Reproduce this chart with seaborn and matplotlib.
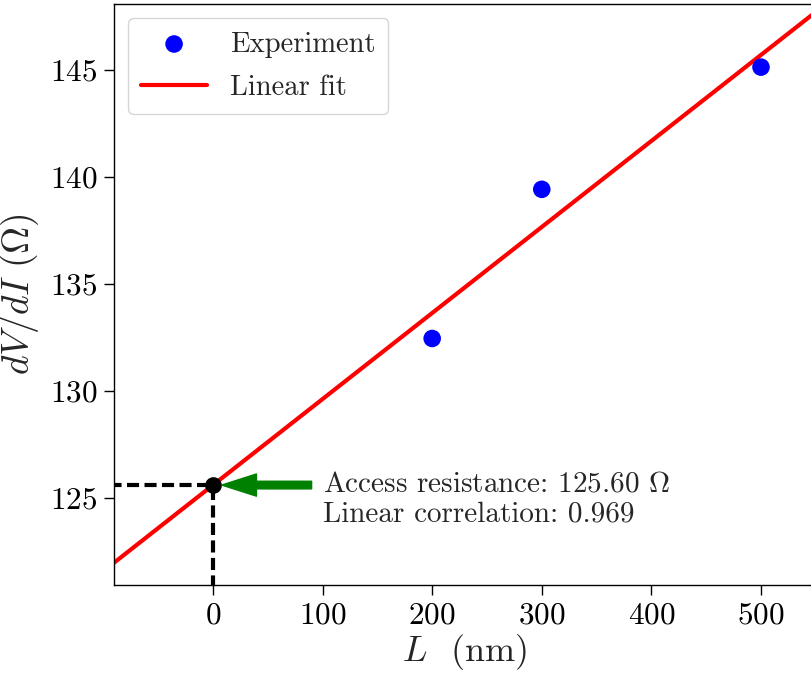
import numpy as np
import pandas as pd
import seaborn as sns
import matplotlib
matplotlib.use("Agg")
import matplotlib.pyplot as plt

# ---- data ----
length_nm = [200, 300, 500]
dvdi_ohm = [132.45, 139.42, 145.13]
access_resistance = 125.60
fit_slope = 0.0402
linear_correlation = 0.969
x_ticks = [0, 100, 200, 300, 400, 500]
y_ticks = [125, 130, 135, 140, 145]

sns.set_style("ticks")
plt.rcParams.update({
    "font.family": "serif",
    "font.serif": ["cmr10"],
    "mathtext.fontset": "cm",
    "axes.unicode_minus": False,
    "axes.formatter.use_mathtext": True,
    "axes.edgecolor": "black",
    "axes.linewidth": 1.0,
    "xtick.color": "black",
    "ytick.color": "black",
})

df = pd.DataFrame({"L": length_nm, "R": dvdi_ohm})

fig = plt.figure(figsize=(8.12, 6.74), dpi=100)
ax = fig.add_axes([114 / 812, 1 - 585 / 674, (816 - 114) / 812, (585 - 4) / 674])

xmin, xmax = -90.3, 550.2
ymin, ymax = 120.93, 148.08

fit_x = np.array([xmin - 20, xmax + 20])
fit_df = pd.DataFrame({"L": fit_x, "R": access_resistance + fit_slope * fit_x})

sns.scatterplot(data=df, x="L", y="R", ax=ax, color="blue", s=160,
                edgecolor="none", label="Experiment", zorder=3)
sns.lineplot(data=fit_df, x="L", y="R", ax=ax, color="red", lw=3,
             label="Linear fit", zorder=2)

# dashed guides to the intercept
ax.plot([xmin - 20, 0], [access_resistance, access_resistance], ls="--",
        color="black", lw=3, dashes=(2.9, 1.3), zorder=4)
ax.plot([0, 0], [ymin - 5, access_resistance], ls="--", color="black",
        lw=3, dashes=(2.9, 1.3), zorder=4)
ax.plot([0], [access_resistance], "o", color="black", ms=11, zorder=5)

ax.annotate("", xy=(8, access_resistance), xytext=(90, access_resistance),
            arrowprops=dict(facecolor="green", edgecolor="green", width=5.5,
                            headwidth=16, headlength=25, shrink=0), zorder=5)
ax.annotate("Access resistance: %.2f $\\Omega$\nLinear correlation: %.3f"
            % (access_resistance, linear_correlation),
            xy=(100, access_resistance), xytext=(0, 10),
            textcoords="offset points",
            fontsize=21, ha="left", va="top", linespacing=1.2)

ax.set_xlim(xmin, xmax)
ax.set_ylim(ymin, ymax)
ax.set_xticks(x_ticks)
ax.set_yticks(y_ticks)
ax.tick_params(labelsize=22.5, length=7, width=1, direction="out", pad=5)
ax.set_xlabel(r"$L$  (nm)", fontsize=26, labelpad=2)
ax.set_ylabel(r"$dV/dI\ (\Omega)$", fontsize=27, labelpad=6)

leg = ax.legend(loc="upper left", fontsize=20.6, frameon=True, handlelength=2.3,
                borderpad=0.45, labelspacing=0.6, handletextpad=0.8)
leg.get_frame().set_edgecolor("#cccccc")

fig.savefig("out.png", dpi=100)
